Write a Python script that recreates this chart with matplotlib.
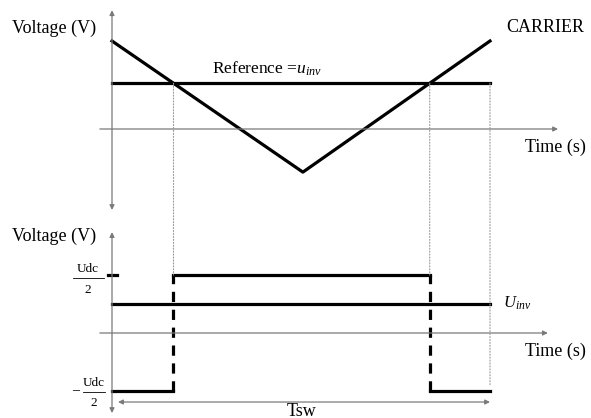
import numpy as np
import matplotlib.pyplot as plt
from matplotlib.patches import ConnectionPatch

plt.rcParams['font.family'] = 'Liberation Serif'
plt.rcParams['mathtext.fontset'] = 'custom'
plt.rcParams['mathtext.rm'] = 'Liberation Serif'
plt.rcParams['mathtext.it'] = 'Liberation Serif:italic'

# one switching period, normalised time
t_carrier = [0.0, 0.505, 1.0]
carrier = [1.0, -0.49, 1.0]
reference = 0.52
udc_half = 1.0
u_inv = 0.5

# crossing points of carrier and reference
t_on = np.interp(reference, [carrier[1], carrier[0]], [t_carrier[1], t_carrier[0]])
t_off = np.interp(reference, [carrier[1], carrier[2]], [t_carrier[1], t_carrier[2]])

W, H = 591, 418
fig = plt.figure(figsize=(W / 100, H / 100), dpi=100)

# x: t -> px = 112 + 378 t
xlim = (-112 / 378, (W - 112) / 378)

# top panel: px rows 0..215, zero at 129, 88 px per unit
top = fig.add_axes([0, 1 - 215 / H, 1, 215 / H])
top.set_xlim(xlim)
top.set_ylim((129 - 215) / 88, 129 / 88)
# bottom panel: px rows 215..418, zero at 333, 58 px per unit
bot = fig.add_axes([0, 0, 1, 203 / H])
bot.set_xlim(xlim)
bot.set_ylim((333 - H) / 58, (333 - 215) / 58)
for ax in (top, bot):
    ax.axis('off')

grey = '#7a7a7a'
thick = 2.3

def axis_arrow(ax, start, end, style='-|>'):
    ax.annotate('', xy=end, xytext=start,
                arrowprops=dict(arrowstyle=style, color=grey, lw=0.9,
                                mutation_scale=7, shrinkA=0, shrinkB=0))

# top axes
axis_arrow(top, (-0.032, 0), (1.18, 0))
axis_arrow(top, (0, -0.92), (0, 1.35), '<|-|>')
top.plot(t_carrier, carrier, color='k', lw=thick)
top.plot([0, 1], [reference, reference], color='k', lw=thick)

# bottom axes
axis_arrow(bot, (-0.032, 0), (1.153, 0))
axis_arrow(bot, (0, -1.38), (0, 1.74), '<|-|>')
bot.plot([-0.011, 0.013], [udc_half, udc_half], color='k', lw=thick)
bot.plot([0, 1], [u_inv, u_inv], color='k', lw=thick)
bot.plot([0, t_on], [-udc_half, -udc_half], color='k', lw=thick)
bot.plot([t_on, t_off], [udc_half, udc_half], color='k', lw=thick)
bot.plot([t_off, 1], [-udc_half, -udc_half], color='k', lw=thick)
for t in (t_on, t_off):
    bot.plot([t, t], [-udc_half, udc_half], color='k', lw=thick, dashes=(3.2, 2.4))
axis_arrow(bot, (0.016, -1.19), (1.0, -1.19), '<|-|>')

# dotted guides between panels
for t, y_end in ((t_on, udc_half), (t_off, udc_half), (1.0, -0.9)):
    con = ConnectionPatch(xyA=(t, reference), coordsA=top.transData,
                          xyB=(t, y_end), coordsB=bot.transData,
                          color='#9a9a9a', lw=0.8, linestyle=':')
    fig.add_artist(con)

def label(x, y, s, size=13, ha='left', **kw):
    fig.text(x / W, 1 - y / H, s, fontsize=size, ha=ha, va='center', **kw)

label(12, 28, 'Voltage (V)')
label(12, 236, 'Voltage (V)')
label(506, 27, 'CARRIER')
label(212, 69, r'Reference =$u_{inv}$', size=12.5)
label(525, 147, 'Time (s)')
label(525, 351, 'Time (s)')
label(503, 303, r'$U_{inv}$', size=12)
label(302, 411, 'Tsw', ha='center')

# Udc/2 fractions
label(88, 269, 'Udc', size=9.5, ha='center')
label(88, 290, '2', size=9.5, ha='center')
fig.add_artist(plt.Line2D([73 / W, 104 / W], [1 - 278 / H, 1 - 278 / H], color='k', lw=0.6))
label(76, 391, '\u2013', size=10, ha='center')
label(94, 383, 'Udc', size=9.5, ha='center')
label(94, 403, '2', size=9.5, ha='center')
fig.add_artist(plt.Line2D([83 / W, 105 / W], [1 - 392 / H, 1 - 392 / H], color='k', lw=0.6))

fig.savefig('out.png', dpi=100)
